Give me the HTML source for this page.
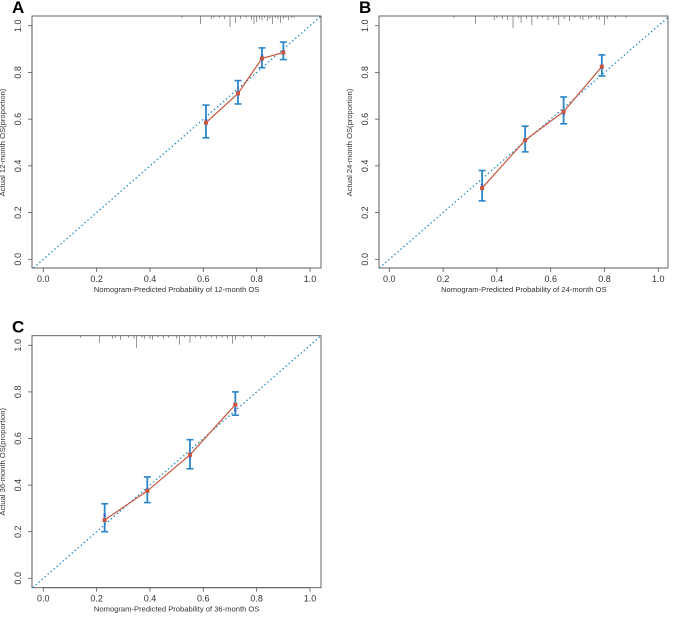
<!DOCTYPE html>
<html><head><meta charset="utf-8">
<style>
html,body{margin:0;padding:0;background:#fff;}
svg{display:block;font-family:"Liberation Sans",Arial,sans-serif;}
</style></head>
<body>
<svg id="fig" width="674" height="620" viewBox="0 0 674 620"></svg>
<script>
// Panel A data (12-month)
const predA = [0.61, 0.73, 0.82, 0.90];
const obsA = [0.585, 0.71, 0.86, 0.885];
const corrA = [0.595, 0.715, 0.87, 0.89];
const lowA = [0.52, 0.665, 0.82, 0.855];
const highA = [0.66, 0.765, 0.905, 0.93];
const rugA = [0.52,0.59,0.63,0.64,0.66,0.68,0.70,0.72,0.74,0.76,0.78,0.79,0.80,0.81,0.82,0.83,0.84,0.85,0.86,0.87,0.88,0.89,0.90,0.91,0.92,0.93,0.94];
const rugLenA = [2,8,3,2,2,3,11,7,3,2,4,8,6,3,4,2,5,3,8,2,3,7,3,2,4,2,2];
// Panel B data (24-month)
const predB = [0.345, 0.505, 0.648, 0.79];
const obsB = [0.305, 0.51, 0.632, 0.825];
const corrB = [0.315, 0.51, 0.625, 0.82];
const lowB = [0.25, 0.46, 0.58, 0.785];
const highB = [0.38, 0.57, 0.695, 0.875];
const rugB = [0.24,0.32,0.39,0.40,0.42,0.44,0.46,0.48,0.49,0.51,0.53,0.55,0.57,0.59,0.61,0.62,0.63,0.65,0.67,0.69,0.71,0.72,0.74,0.75,0.77,0.78,0.80,0.81,0.84,0.88];
const rugLenB = [2,8,4,2,3,4,12,2,7,3,9,3,2,4,3,2,9,3,5,2,3,4,3,2,3,4,9,3,2,2];
// Panel C data (36-month)
const predC = [0.23, 0.39, 0.55, 0.72];
const obsC = [0.25, 0.375, 0.53, 0.745];
const corrC = [0.27, 0.38, 0.52, 0.725];
const lowC = [0.20, 0.325, 0.47, 0.70];
const highC = [0.32, 0.435, 0.595, 0.80];
const rugC = [0.14,0.21,0.26,0.27,0.29,0.32,0.34,0.35,0.37,0.38,0.40,0.41,0.43,0.45,0.47,0.50,0.51,0.53,0.55,0.57,0.59,0.61,0.63,0.65,0.67,0.69,0.71,0.72,0.75,0.78,0.83];
const rugLenC = [2,7,3,2,4,2,3,12,2,3,3,4,2,3,2,3,9,2,7,2,3,2,2,3,2,3,8,4,2,3,2];
const ticks = [0, 0.2, 0.4, 0.6, 0.8, 1.0];
const tickLabels = ["0.0","0.2","0.4","0.6","0.8","1.0"];

const NS = "http://www.w3.org/2000/svg";
const svg = document.getElementById("fig");
function mk(tag, attrs, parent){const e=document.createElementNS(NS,tag);for(const k in attrs)e.setAttribute(k,attrs[k]);(parent||svg).appendChild(e);return e;}

function panel(o){
  const g = mk("g",{});
  
  
  const sx = v => o.x0 + v*(o.x1-o.x0);
  const sy = v => o.y0 - v*(o.y0-o.y1);
  const lab = mk("text",{x:o.bl-20,y:o.bt-3,"font-size":17,"font-weight":"bold",fill:"#000"},g);
  lab.textContent = o.letter;
  
  
  const box = mk("rect",{x:o.bl,y:o.bt,width:o.br-o.bl,height:o.bb-o.bt,fill:"none",stroke:"#555","stroke-width":0.9},g);
  
  
  const xa = mk("g",{},g);
  
  
  mk("line",{x1:sx(0),x2:sx(1),y1:o.bb,y2:o.bb,stroke:"#555","stroke-width":0.8},xa);
  ticks.forEach((t,i)=>{
    mk("line",{x1:sx(t),x2:sx(t),y1:o.bb,y2:o.bb+4,stroke:"#555","stroke-width":0.8},xa);
    const tt = mk("text",{x:sx(t),y:o.bb+14,"font-size":9,"text-anchor":"middle",fill:"#333"},xa);
    tt.textContent = tickLabels[i];
    
    
  });
  const xt = mk("text",{x:(sx(0)+sx(1))/2,y:o.bb+24,"font-size":7.6,"text-anchor":"middle",fill:"#333"},g);
  xt.textContent = o.xlab;
  
  
  const ya = mk("g",{},g);
  
  
  mk("line",{x1:o.bl,x2:o.bl,y1:sy(0),y2:sy(1),stroke:"#555","stroke-width":0.8},ya);
  ticks.forEach((t,i)=>{
    mk("line",{x1:o.bl,x2:o.bl-4,y1:sy(t),y2:sy(t),stroke:"#555","stroke-width":0.8},ya);
    const lx = o.bl-11;
    const tt = mk("text",{x:lx,y:sy(t),"font-size":9,"text-anchor":"middle",fill:"#333",transform:`rotate(-90 ${lx} ${sy(t)})`},ya);
    tt.textContent = tickLabels[i];
    
    
  });
  const ycx = o.bl-27, ycy=(sy(0)+sy(1))/2;
  const yt = mk("text",{x:ycx,y:ycy,"font-size":7.6,"text-anchor":"middle",fill:"#333",transform:`rotate(-90 ${ycx} ${ycy})`},g);
  yt.textContent = o.ylab;
  
  
  const lo = (o.bl-o.x0)/(o.x1-o.x0), hi=(o.br-o.x0)/(o.x1-o.x0);
  const hiY = (o.y0-o.bt)/(o.y0-o.y1);
  const h = Math.min(hi,hiY), l = Math.max(lo,(o.y0-o.bb)/(o.y0-o.y1));
  const diag = mk("line",{x1:sx(l),y1:sy(l),x2:sx(h),y2:sy(h),stroke:"#2b8cc4","stroke-width":1.3,"stroke-dasharray":"1.5 2.5"},g);
  
  
  const rug = mk("g",{},g);
  
  
  o.rug.forEach((r,i)=>{mk("line",{x1:sx(r),x2:sx(r),y1:o.bt,y2:o.bt+o.rugLen[i],stroke:"#666","stroke-width":0.7},rug);});
  o.pred.forEach((p,i)=>{
    const eb = mk("g",{},g);
    
    
    const x=sx(p);
    mk("line",{x1:x,x2:x,y1:sy(o.low[i]),y2:sy(o.high[i]),stroke:"#2a86c8","stroke-width":1.8},eb);
    mk("line",{x1:x-3.5,x2:x+3.5,y1:sy(o.low[i]),y2:sy(o.low[i]),stroke:"#2a86c8","stroke-width":1.6},eb);
    mk("line",{x1:x-3.5,x2:x+3.5,y1:sy(o.high[i]),y2:sy(o.high[i]),stroke:"#2a86c8","stroke-width":1.6},eb);
  });
  const pts = o.pred.map((p,i)=>sx(p)+","+sy(o.obs[i])).join(" ");
  const pl = mk("polyline",{points:pts,fill:"none",stroke:"#c8553d","stroke-width":1.2},g);
  
  
  o.pred.forEach((p,i)=>{
    const cx = mk("text",{x:sx(p),y:sy(o.corr[i])+2.5,"font-size":7,"text-anchor":"middle",fill:"#3344cc"},g);
    cx.textContent="×";
    
    
    const pt = mk("rect",{x:sx(p)-2,y:sy(o.obs[i])-2,width:4,height:4,fill:"#c8553d"},g);
    
    
  });
}
panel({letter:"A",bl:32,br:321,bt:16,bb:268,x0:43.3,x1:310,y0:259.3,y1:25.7,
  pred:predA,obs:obsA,corr:corrA,low:lowA,high:highA,rug:rugA,rugLen:rugLenA,
  xlab:"Nomogram-Predicted Probability of 12-month OS",ylab:"Actual 12-month OS(proportion)"});
panel({letter:"B",bl:379,br:668,bt:16,bb:268,x0:389.3,x1:658.3,y0:259.3,y1:25.7,
  pred:predB,obs:obsB,corr:corrB,low:lowB,high:highB,rug:rugB,rugLen:rugLenB,
  xlab:"Nomogram-Predicted Probability of 24-month OS",ylab:"Actual 24-month OS(proportion)"});
panel({letter:"C",bl:32,br:321,bt:335.7,bb:587.7,x0:43.3,x1:310,y0:578.3,y1:345.3,
  pred:predC,obs:obsC,corr:corrC,low:lowC,high:highC,rug:rugC,rugLen:rugLenC,
  xlab:"Nomogram-Predicted Probability of 36-month OS",ylab:"Actual 36-month OS(proportion)"});
</script>
</body></html>
